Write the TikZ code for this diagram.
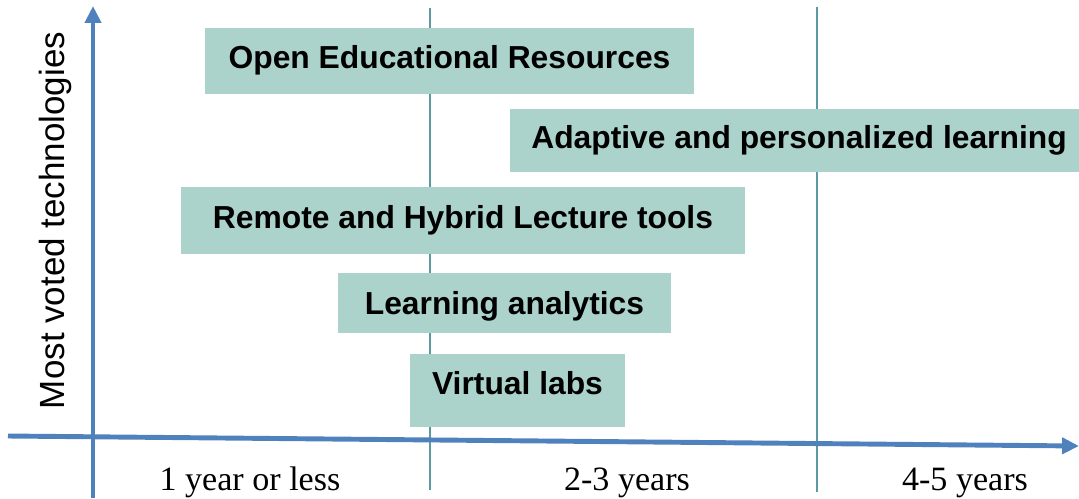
\documentclass[tikz,border=0pt]{standalone}
\usepackage{fontspec}
\setmainfont{Liberation Serif}
\newfontfamily\arialfont{Liberation Sans}
\usetikzlibrary{arrows.meta}
\definecolor{axisblue}{HTML}{4F81BD}
\definecolor{boxgreen}{HTML}{ABD3CB}
\definecolor{divteal}{HTML}{5A9AA0}
\tikzset{
  techbox/.style={fill=boxgreen, inner sep=0pt,
    font=\arialfont\bfseries\fontsize{18.1pt}{21pt}\selectfont,
    text height=13.6pt, text depth=4.5pt},
  axisline/.style={draw=axisblue, line width=2.8pt,
    -{Triangle[length=9.6pt,width=9pt]}},
  divider/.style={draw=divteal, line width=1.1pt},
  yearlabel/.style={anchor=base, font=\fontsize{19.4pt}{22pt}\selectfont}
}
\begin{document}
\begin{tikzpicture}[x=0.02cm,y=-0.02cm]
  \useasboundingbox (0,0) rectangle (1079,498);
  % time dividers
  \coordinate (d1top) at (430,8);
  \coordinate (d1bot) at (430,490);
  \coordinate (d2top) at (817,7);
  \coordinate (d2bot) at (817,492);
  \draw[divider] (d1top) -- (d1bot);
  \draw[divider] (d2top) -- (d2bot);
  % technologies
  \node[techbox, minimum width=9.78cm, minimum height=1.32cm] (oer) at (449.5,61)
    {Open Educational Resources};
  \node[techbox, minimum width=11.56cm, minimum height=1.26cm] (adapt) at (799,140.5)
    {Adaptive and personalized learning};
  \node[techbox, minimum width=11.28cm, minimum height=1.34cm] (remote) at (463,220.5)
    {Remote and Hybrid Lecture tools};
  \node[techbox, minimum width=6.66cm, minimum height=1.2cm, text depth=1pt] (analytics) at (504.5,303)
    {Learning analytics};
  \node[techbox, minimum width=4.3cm, minimum height=1.46cm, text depth=9pt] (vlabs) at (517.5,390.5)
    {Virtual labs};
  % axes
  \coordinate (ybot) at (93,498);
  \coordinate (ytop) at (93,6);
  \coordinate (xleft) at (8,436);
  \coordinate (xright) at (1079,446);
  \draw[axisline] (ybot) -- (ytop);
  \draw[axisline] (xleft) -- (xright);
  \node[rotate=90, anchor=base, font=\arialfont\fontsize{19.9pt}{23pt}\selectfont] (ylab) at (64,220.5)
    {Most voted technologies};
  \node[yearlabel] (y1) at (250,490) {1 year or less};
  \node[yearlabel] (y2) at (627,490) {2-3 years};
  \node[yearlabel] (y3) at (965,490) {4-5 years};
\end{tikzpicture}
\end{document}
